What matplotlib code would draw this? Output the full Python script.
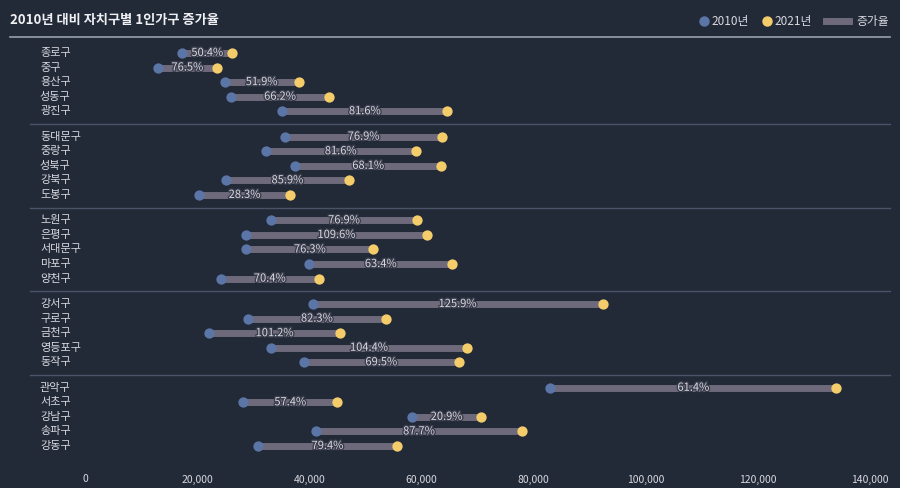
import matplotlib
matplotlib.use("Agg")
import matplotlib.pyplot as plt
import matplotlib.transforms as mtransforms
from matplotlib.lines import Line2D
import matplotlib.patheffects as pe

plt.rcParams['font.family'] = ['Noto Sans CJK KR', 'DejaVu Sans']

# data: districts in five groups, 1-person households in 2010 and 2021
groups = [
    ['종로구', '중구', '용산구', '성동구', '광진구'],
    ['동대문구', '중랑구', '성북구', '강북구', '도봉구'],
    ['노원구', '은평구', '서대문구', '마포구', '양천구'],
    ['강서구', '구로구', '금천구', '영등포구', '동작구'],
    ['관악구', '서초구', '강남구', '송파구', '강동구'],
]
val_2010 = [
    [17300, 13000, 24900, 26000, 35200],
    [35700, 32200, 37500, 25100, 20300],
    [33200, 28700, 28800, 40000, 24200],
    [40600, 29100, 22200, 33100, 39000],
    [83000, 28200, 58300, 41200, 30800],
]
val_2021 = [
    [26300, 23500, 38100, 43600, 64600],
    [63700, 59000, 63500, 47100, 36600],
    [59200, 61000, 51400, 65500, 41700],
    [92300, 53600, 45400, 68200, 66700],
    [134000, 45000, 70700, 77900, 55700],
]
rates = [
    ['50.4%', '76.5%', '51.9%', '66.2%', '81.6%'],
    ['76.9%', '81.6%', '68.1%', '85.9%', '28.3%'],
    ['76.9%', '109.6%', '76.3%', '63.4%', '70.4%'],
    ['125.9%', '82.3%', '101.2%', '104.4%', '69.5%'],
    ['61.4%', '57.4%', '20.9%', '87.7%', '79.4%'],
]
xticks = [0, 20000, 40000, 60000, 80000, 100000, 120000, 140000]

bg = '#222a38'
c_2010 = '#5b75a6'
c_2021 = '#f4cc6a'
c_bar = '#6e6a7c'
c_text = '#d9d9e0'

fig = plt.figure(figsize=(9, 4.88), dpi=100, facecolor=bg)
ax = fig.add_axes([85 / 900, 1 - 462 / 488, (870 - 85) / 900, (462 - 38) / 488])
ax.set_facecolor(bg)

gap = 0.75
trans = mtransforms.blended_transform_factory(fig.transFigure, ax.transData)
y = 0.0
for gi, names in enumerate(groups):
    for i, name in enumerate(names):
        a, b = val_2010[gi][i], val_2021[gi][i]
        ax.plot([a, b], [y, y], color=c_bar, lw=5, solid_capstyle='butt', zorder=1)
        ax.scatter([a], [y], s=55, color=c_2010, zorder=3, linewidths=0)
        ax.scatter([b], [y], s=55, color=c_2021, zorder=3, linewidths=0)
        ax.text((a + b) / 2, y, rates[gi][i], ha='center', va='center', fontsize=8,
                color=c_text, zorder=4,
                path_effects=[pe.withStroke(linewidth=2, foreground='#3a3d4c')])
        ax.text(40 / 900, y, name, transform=trans, ha='left', va='center',
                fontsize=8, color=c_text)
        y += 1
    if gi < len(groups) - 1:
        sep = y - 1 + (1 + gap) / 2
        ax.plot([30 / 900, 890 / 900], [sep, sep], transform=trans, color='#4a5366',
                lw=1, clip_on=False)
        y += gap

ax.set_ylim(28.1, -1.03)
ax.set_xlim(0, 140000)
ax.set_xticks(xticks)
ax.set_xticklabels([f'{v:,}' for v in xticks], fontsize=7.5, color=c_text)
ax.tick_params(axis='x', length=0, pad=9)
ax.set_yticks([])
for s in ax.spines.values():
    s.set_visible(False)

# title and underline
fig.text(10 / 900, 1 - 20 / 488, '2010년 대비 자치구별 1인가구 증가율', fontsize=9.5,
         fontweight='bold', color='#f0f0f4', ha='left', va='center')
fig.add_artist(Line2D([10 / 900, 890 / 900], [1 - 37 / 488, 1 - 37 / 488],
                      color='#9aa0ad', lw=1.2))

# legend
ly = 1 - 21 / 488
fig.add_artist(Line2D([704 / 900], [ly], marker='o', ms=6.5, color=c_2010, lw=0))
fig.text(711 / 900, ly, '2010년', fontsize=8.5, color=c_text, va='center', ha='left')
fig.add_artist(Line2D([767 / 900], [ly], marker='o', ms=6.5, color=c_2021, lw=0))
fig.text(774 / 900, ly, '2021년', fontsize=8.5, color=c_text, va='center', ha='left')
fig.add_artist(Line2D([826 / 900, 849 / 900], [ly, ly], color=c_bar, lw=5))
fig.text(856 / 900, ly, '증가율', fontsize=8.5, color=c_text, va='center', ha='left')

fig.savefig('out.png', dpi=100, facecolor=bg)
